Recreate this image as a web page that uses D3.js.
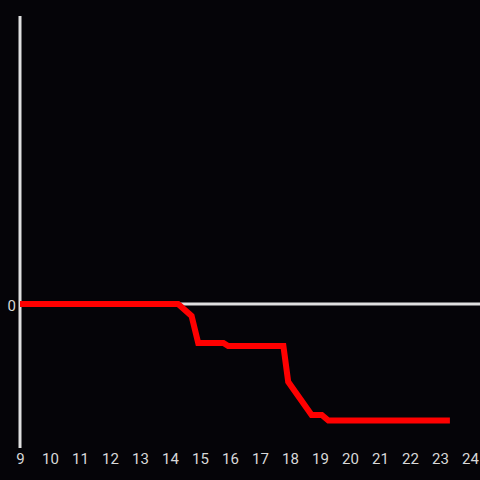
<!DOCTYPE html>
<html>
<head>
  <meta charset="utf-8">
  <style>
    body { margin: 0; background: #050408; }
    svg { display: block; }
    .tick text { font-family: Roboto, "Liberation Sans", sans-serif; font-size: 15px; fill: #d8d8d8; }
  </style>
</head>
<body>
  <div class="chart"></div>
  <script src="https://cdn.jsdelivr.net/npm/d3@7"></script>
  <script>
    // hours on the x axis
    let hours = [9, 14.27, 14.72, 14.94, 15.78, 15.94, 17.78, 17.94, 18.72, 19.06, 19.28, 23.33];
    let values = [0, 0, -0.083, -0.271, -0.271, -0.292, -0.292, -0.54, -0.771, -0.771, -0.809, -0.809];
    let xTicks = d3.range(9, 25);
    let yTicks = [0];

    let width = 480, height = 480;

    let svg = d3.select(".chart").append("svg")
      .attr("width", width)
      .attr("height", height);

    svg.append("rect")
      .attr("width", width).attr("height", height)
      .attr("fill", "#050408");

    let x = d3.scaleLinear().domain([9, 24]).range([20, 470]);
    let y = d3.scaleLinear().domain([-1, 2]).range([448, 16]);

    // y axis line
    svg.append("line")
      .attr("x1", x(9)).attr("x2", x(9))
      .attr("y1", y(2)).attr("y2", y(-1))
      .attr("stroke", "#e0e0e0")
      .attr("stroke-width", 3);

    // zero line
    svg.append("line")
      .attr("x1", x(9)).attr("x2", width)
      .attr("y1", y(0)).attr("y2", y(0))
      .attr("stroke", "#e0e0e0")
      .attr("stroke-width", 3);

    let xAxis = d3.axisBottom(x).tickValues(xTicks).tickSize(0).tickPadding(0);
    let gx = svg.append("g")
      .attr("transform", "translate(0,453)")
      .call(xAxis);
    gx.select(".domain").remove();

    let yAxis = d3.axisLeft(y).tickValues(yTicks).tickFormat(d3.format("d"))
      .tickSize(0).tickPadding(4);
    let gy = svg.append("g")
      .attr("transform", "translate(" + x(9) + ",2)")
      .call(yAxis);
    gy.select(".domain").remove();
    gy.selectAll("text").attr("text-anchor", "end").attr("x", -4);

    let data = hours.map(function (h, i) { return { x: h, y: values[i] }; });
    let line = d3.line()
      .x(function (d) { return x(d.x); })
      .y(function (d) { return y(d.y); });

    svg.append("path")
      .datum(data)
      .attr("fill", "none")
      .attr("stroke", "#ff0000")
      .attr("stroke-width", 6)
      .attr("stroke-linejoin", "miter")
      .attr("d", line);
  </script>
</body>
</html>
